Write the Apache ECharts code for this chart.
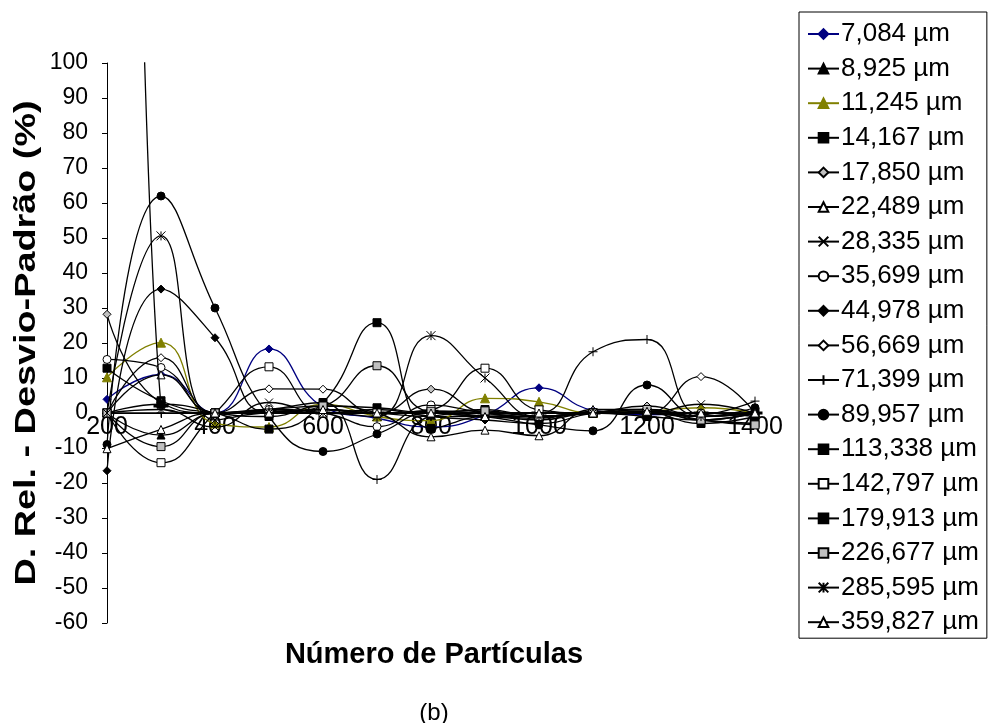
<!DOCTYPE html>
<html>
<head>
<meta charset="utf-8">
<script src="https://cdn.jsdelivr.net/npm/echarts@6/dist/echarts.min.js"></script>
<style>html,body{margin:0;padding:0;background:#fff;}#c{width:989px;height:723px;}</style>
</head>
<body>
<div id="c"></div>
<script>
var xValues = [200,300,400,500,600,700,800,900,1000,1100,1200,1300,1400];
var seriesNames = ['7,084 µm','8,925 µm','11,245 µm','14,167 µm','17,850 µm','22,489 µm','28,335 µm','35,699 µm','44,978 µm','56,669 µm','71,399 µm','89,957 µm','113,338 µm','142,797 µm','179,913 µm','226,677 µm','285,595 µm','359,827 µm'];
var s7084   = [3.9, 11, 0, 18.3, 1.8, -1.5, -4, -0.6, 7.2, 0.8, -0.5, 0, -0.5];
var s8925   = [0, -6.3, 0, 0.5, 1, 0, -1, -1, -1.5, 0.5, 0, -1, 0];
var s11245  = [10.2, 20.1, -3, -4, 2.5, -1, -2.2, 4.2, 3.2, 0, 0.5, 1.5, 0];
var s14167  = [12.8, 3.5, 0, -1, 2, 1.5, 0, 1, -1, 0, -1, -2, 0];
var s17850  = [28.2, 3, 0, 0, 1, 0, 6.8, 0, -1, 0, 2, -1, 0];
var s22489  = [0, 10.9, 0, 1, 2, 0, -6.8, -4.9, -6.5, 1, 1, -1, 0.5];
var s28335  = [0, 1, -4, 3, 0, 0, 0, -1, -1, 0, 0, 2.5, 0];
var s35699  = [15.3, 13, 0, 1, 0, -3.9, 2.3, 0, -1, 0, 0, 0, -1];
var s44978  = [-16.5, 35.4, 21.5, 0, 0, 1, -1, -2, -3, 0, 1, -2, 0];
var s56669  = [0, 15.8, 0, 6.9, 6.8, 0, 0, 0, 0, 0, 0, 10.4, 0];
var s71399  = [0, 0, 0, 1, 3, -19, -1, 0, 0, 17.5, 21, -0.5, 3.4];
var s89957  = [-9, 62, 30, -1, -11, -6, 0, -1, -3.4, -5.1, 8, -1, 1.5];
var s113338 = [1400, 2, 0, 0.5, 0, 0, 0.5, 0, 0, 0, 0, 0, 0];
var s142797 = [0, -14.2, 0, 13.2, 0, 0, 1, 12.8, 0.9, 0, 0, -2, -3];
var s179913 = [0, 2.5, 0, -4.6, 3, 25.8, -4.4, -1, -2, 0, 0, -3, -1];
var s226677 = [0, -9.6, 0, 0, 2, 13.5, 0.5, 0.6, -1, 0, 1, -2, -3.4];
var s285595 = [0, 50.6, -2, 0, 0, -1, 22.1, 10, -1, 0, 0, -1, 0];
var s359827 = [-10.2, -4.7, 0, 0, 1, 0, 0, -1, 0, 0, 0.5, 0, 0];
var allValues = [s7084,s8925,s11245,s14167,s17850,s22489,s28335,s35699,s44978,s56669,s71399,s89957,s113338,s142797,s179913,s226677,s285595,s359827];
var yTicks = {min: -60, max: 100, interval: 10};
var xTicks = {min: 200, max: 1400, interval: 200};

var NAVY = '#000080', OLIVE = '#808000', GREY = '#c0c0c0';
var X_PATH = 'path://M0,0L10,10M10,0L0,10';
var PLUS_PATH = 'path://M5,0L5,10M0,5L10,5';
var STAR_PATH = 'path://M0,0L10,10M10,0L0,10M5,0L5,10';
var DASH_PATH = 'path://M0,0L10,0L10,2L0,2Z';
var styles = [
  {line: NAVY, sym: 'diamond', size: 8, fill: NAVY, border: NAVY},
  {line: '#000', sym: 'triangle', size: 8, fill: '#000', border: '#000'},
  {line: OLIVE, sym: 'triangle', size: 9, fill: OLIVE, border: OLIVE},
  {line: '#000', sym: 'rect', size: 8, fill: '#000', border: '#000'},
  {line: '#000', sym: 'diamond', size: 8, fill: GREY, border: '#000'},
  {line: '#000', sym: 'triangle', size: 8, fill: '#fff', border: '#000'},
  {line: '#000', sym: X_PATH, size: 8, fill: 'none', border: '#000'},
  {line: '#000', sym: 'circle', size: 8, fill: '#fff', border: '#000'},
  {line: '#000', sym: 'diamond', size: 8, fill: '#000', border: '#000'},
  {line: '#000', sym: 'diamond', size: 8, fill: '#fff', border: '#000'},
  {line: '#000', sym: PLUS_PATH, size: 9, fill: 'none', border: '#000'},
  {line: '#000', sym: 'circle', size: 8, fill: '#000', border: '#000'},
  {line: '#000', sym: DASH_PATH, size: [10, 2], fill: '#000', border: '#000'},
  {line: '#000', sym: 'rect', size: 8, fill: '#fff', border: '#000'},
  {line: '#000', sym: 'rect', size: 8, fill: '#000', border: '#000'},
  {line: '#000', sym: 'rect', size: 8, fill: GREY, border: '#000'},
  {line: '#000', sym: STAR_PATH, size: 9, fill: 'none', border: '#000'},
  {line: '#000', sym: 'triangle', size: 8, fill: '#fff', border: '#000'}
];

var series = seriesNames.map(function (name, i) {
  var st = styles[i];
  return {
    name: name,
    type: 'line',
    smooth: 0.5,
    clip: true,
    data: xValues.map(function (x, k) { return [x, allValues[i][k]]; }),
    symbol: st.sym,
    symbolSize: st.size,
    showSymbol: true,
    lineStyle: {color: st.line, width: 1.3},
    itemStyle: {color: st.fill === 'none' ? 'rgba(0,0,0,0)' : st.fill, borderColor: st.border, borderWidth: 1, opacity: 1},
    emphasis: {disabled: true},
    z: 2 + i
  };
});

var chart = echarts.init(document.getElementById('c'), null, {renderer: 'canvas'});
chart.setOption({
  animation: false,
  backgroundColor: '#fff',
  grid: {left: 107, top: 63, right: 234, bottom: 100, containLabel: false},
  xAxis: {
    type: 'value', min: xTicks.min, max: xTicks.max, interval: xTicks.interval,
    position: 'bottom', offset: -210,
    axisLine: {onZero: false, lineStyle: {color: '#000', width: 1}},
    axisTick: {show: true, inside: false, length: 5, lineStyle: {color: '#000'}},
    minorTick: {show: true, splitNumber: 2, length: 5, lineStyle: {color: '#000'}},
    splitLine: {show: false},
    axisLabel: {color: '#000', fontSize: 25, fontFamily: 'Liberation Sans, Arial', margin: 2,
      formatter: function (v) { return String(v); }}
  },
  yAxis: {
    type: 'value', min: yTicks.min, max: yTicks.max, interval: yTicks.interval,
    axisLine: {show: true, onZero: false, lineStyle: {color: '#000', width: 1}},
    axisTick: {show: true, inside: false, length: 5, lineStyle: {color: '#000'}},
    splitLine: {show: false},
    axisLabel: {color: '#000', fontSize: 23, fontFamily: 'Liberation Sans, Arial', margin: 19}
  },
  legend: {
    orient: 'vertical', left: 799, top: 12,
    data: seriesNames,
    itemWidth: 31, itemHeight: 12, itemGap: 8.6,
    padding: [9, 8, 3, 8],
    borderColor: '#000', borderWidth: 1,
    textStyle: {color: '#000', fontSize: 26, fontFamily: 'Liberation Sans, Arial', lineHeight: 26, padding: [0,0,0,-3]},
    selectedMode: false
  },
  graphic: [
    {type: 'text', x: 434, y: 655, style: {text: 'Número de Partículas', font: 'bold 29px "Liberation Sans", Arial', fill: '#000', align: 'center', verticalAlign: 'middle'}},
    {type: 'text', x: 434, y: 713, style: {text: '(b)', font: '24px "Liberation Sans", Arial', fill: '#000', align: 'center', verticalAlign: 'middle'}},
    {type: 'text', x: 27, y: 343, rotation: Math.PI / 2, scaleX: 1.26, style: {text: 'D. Rel. - Desvio-Padrão (%)', font: 'bold 30px "Liberation Sans", Arial', fill: '#000', align: 'center', verticalAlign: 'middle'}}
  ],
  series: series
});
</script>
</body>
</html>
